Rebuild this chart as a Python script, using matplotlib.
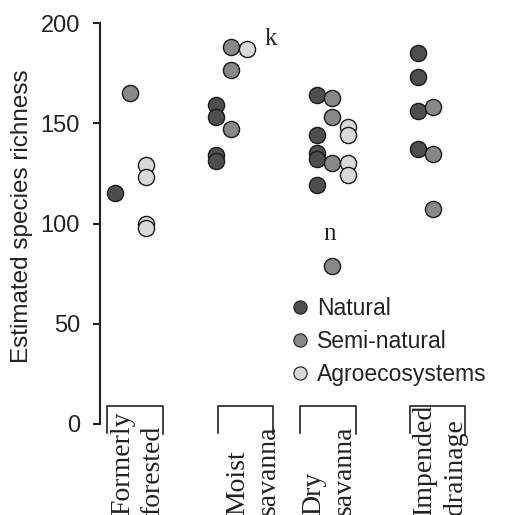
import matplotlib
matplotlib.use("Agg")
import matplotlib.pyplot as plt
from matplotlib.lines import Line2D
from matplotlib.transforms import blended_transform_factory

# ---- data ----
categories = ["Formerly\nforested", "Moist\nsavanna", "Dry\nsavanna", "Impended\ndrainage"]
series_names = ["Natural", "Semi-natural", "Agroecosystems"]
natural = [[115], [159, 153, 134, 131], [164, 144, 135, 132, 119], [185, 173, 156, 137]]
semi_natural = [[165], [188, 176.5, 147], [162.5, 153, 130, 79], [158, 134.5, 107]]
agroecosystems = [[129, 123, 100, 98], [187], [148, 144, 130, 124], []]
yticks = [0, 50, 100, 150, 200]
notes = [("k", 1.39, 192), ("n", 1.98, 95)]

# ---- style / layout ----
colors = ["#4e4e4e", "#888888", "#d9d9d9"]
offsets = [-0.145, 0.0, 0.155]
bracket_spans = [(-0.23, 0.33), (-0.13, 0.42), (-0.32, 0.24), (-0.23, 0.32)]
label_dx = [0.075, 0.22, -0.025, 0.07]
ink = "#222222"

W, H = 507, 515
fig = plt.figure(figsize=(W / 100, H / 100), dpi=100)
ax = fig.add_axes([100 / W, 91 / H, 407 / W, 401 / H])
ax.set_xlim(-30 / 101, 377 / 101)
ax.set_ylim(0, 200)

all_series = [natural, semi_natural, agroecosystems]
for s_idx, series in enumerate(all_series):
    for c_idx, vals in enumerate(series):
        if not vals:
            continue
        xs = [c_idx + offsets[s_idx]] * len(vals)
        ax.scatter(xs, vals, s=135, c=colors[s_idx], edgecolors="#1a1a1a",
                   linewidths=1.0, zorder=3 + s_idx, clip_on=False)

for txt, x, y in notes:
    ax.text(x, y, txt, fontsize=18, family="Liberation Serif", color=ink,
            ha="center", va="center")

ax.spines["top"].set_visible(False)
ax.spines["right"].set_visible(False)
ax.spines["bottom"].set_visible(False)
ax.spines["left"].set_bounds(0, 200)
ax.spines["left"].set_linewidth(1.5)
ax.spines["left"].set_color(ink)
ax.set_xticks([])
ax.set_yticks(yticks)
ax.tick_params(axis="y", length=5, width=1.5, pad=9.4, labelsize=17,
               colors=ink)
for lbl in ax.get_yticklabels():
    lbl.set_family("Liberation Sans")

fig.text(22 / W, (H - 216.5) / H, "Estimated species richness", rotation=90,
         ha="center", va="center", fontsize=17.5, family="Liberation Sans",
         color=ink)

# category brackets and labels
trans_b = blended_transform_factory(ax.transData, ax.transAxes)
trans_l = blended_transform_factory(ax.transData, fig.transFigure)
for i, cat in enumerate(categories):
    x0, x1 = i + bracket_spans[i][0], i + bracket_spans[i][1]
    ax.plot([x0, x0, x1, x1], [-0.022, 0.045, 0.045, -0.025], color=ink,
            lw=1.2, transform=trans_b, clip_on=False)
    ax.text(i + label_dx[i], 0.0, cat, rotation=90, ha="center", va="bottom",
            multialignment="left", linespacing=1.3, fontsize=20,
            family="Liberation Serif", color=ink, transform=trans_l)

handles = [Line2D([], [], marker="o", linestyle="none", markersize=9.5,
                  markerfacecolor=colors[k], markeredgecolor="#1a1a1a",
                  markeredgewidth=0.8) for k in range(3)]
leg = ax.legend(handles, series_names, loc="upper left",
                bbox_to_anchor=(293 / W, (H - 297) / H),
                bbox_transform=fig.transFigure, frameon=False,
                borderpad=0, borderaxespad=0, handlelength=0.6,
                handletextpad=0.45, labelspacing=0.43,
                prop={"family": "Liberation Sans", "size": 16.5})
for t in leg.get_texts():
    t.set_color(ink)

fig.savefig("out.png", dpi=100)
